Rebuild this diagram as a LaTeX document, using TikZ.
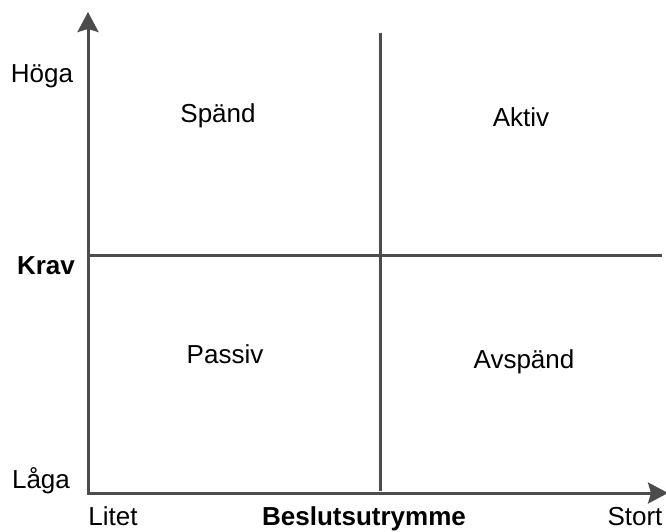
\documentclass[tikz,border=0pt]{standalone}
\usepackage{fontspec}
\setmainfont{Liberation Sans}
\usetikzlibrary{arrows.meta, positioning}

\begin{document}
\begin{tikzpicture}[x=1pt, y=-1pt,
    lbl/.style={font=\fontsize{26}{30}\selectfont, inner sep=0pt, anchor=base},
    axlbl/.style={lbl, font=\fontsize{26}{30}\selectfont\bfseries},
    axis/.style={line width=3pt, draw=black!70, -{Stealth[length=20pt, width=21pt, inset=3pt]}},
    divider/.style={line width=3pt, draw=black!70}]
  \useasboundingbox (0,0) rectangle (666,531);
  % axes
  \coordinate (origin) at (88,493);
  \coordinate (ytop)   at (88,12);
  \coordinate (xend)   at (668,493);
  \draw[axis] ([yshift=1.5pt]origin) -- (ytop);
  \draw[axis] ([xshift=-1.5pt]origin) -- (xend);
  % quadrant dividers
  \coordinate (midleft)  at (88,255);
  \coordinate (midright) at (662,255);
  \coordinate (midtop)   at (380,33);
  \coordinate (midbot)   at (380,491);
  \draw[divider] (midleft) -- (midright);
  \draw[divider] (midtop) -- (midbot);
  % quadrant labels
  \node[lbl] (spand)   at (218,122) {Spänd};
  \node[lbl] (aktiv)   at (521,126) {Aktiv};
  \node[lbl] (passiv)  at (225,363) {Passiv};
  \node[lbl] (avspand) at (524,368) {Avspänd};
  % axis labels
  \node[lbl]    (hoga)  at (42,82)   {Höga};
  \node[axlbl]  (krav)  at (46,274)  {Krav};
  \node[lbl]    (laga)  at (41,488)  {Låga};
  \node[lbl]    (litet) at (113,525) {Litet};
  \node[axlbl]  (beslut) at (364,525) {Beslutsutrymme};
  \node[lbl]    (stort) at (635,525) {Stort};
\end{tikzpicture}
\end{document}
